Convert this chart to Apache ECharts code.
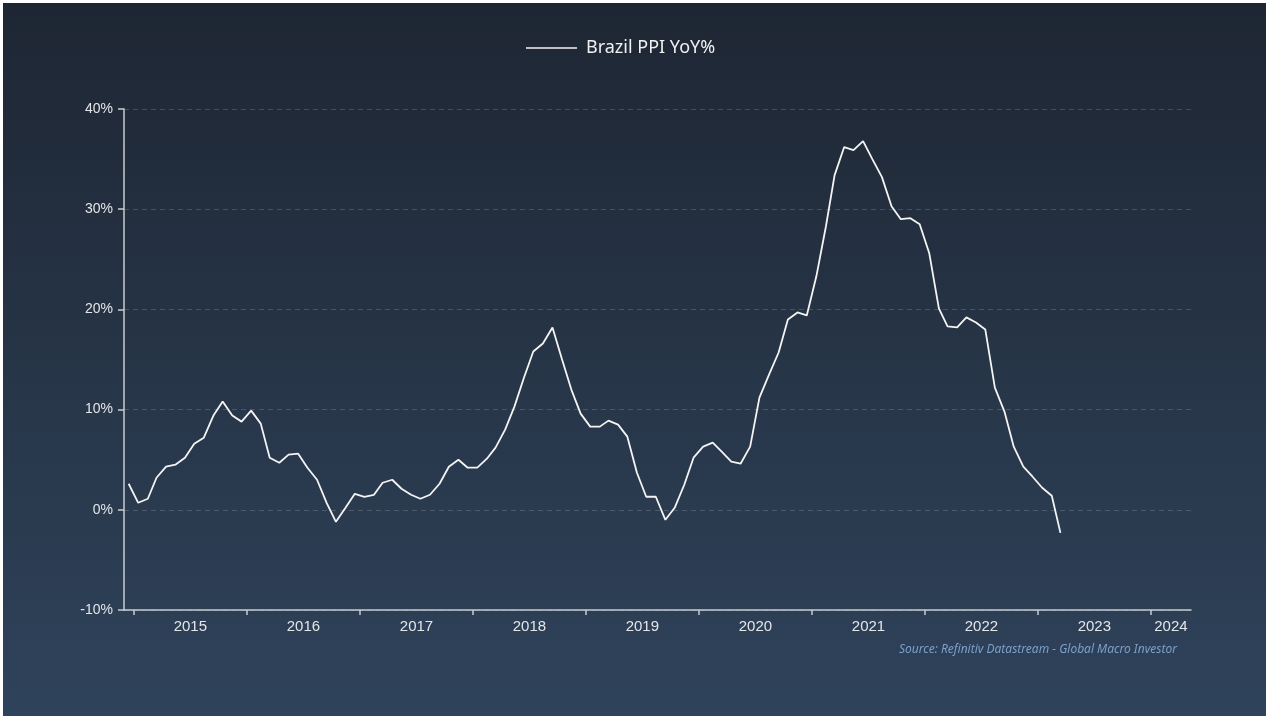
<!DOCTYPE html>
<html>
<head>
<meta charset="utf-8">
<script src="https://cdn.jsdelivr.net/npm/echarts@6/dist/echarts.min.js"></script>
<style>
  html, body { margin: 0; padding: 0; background: #ffffff; }
  #main { position: absolute; left: 3px; top: 3px; width: 1263px; height: 713px; }
</style>
</head>
<body>
<div id="main"></div>
<script>
// monthly series, first value is Dec 2014
const startYear = 2014
const startMonth = 11 // 0-based, December
const ppiYoY = [
  2.6, 0.7, 1.1, 3.2, 4.3, 4.5, 5.2, 6.6, 7.2, 9.4, 10.8, 9.4,
  8.8, 9.9, 8.6, 5.2, 4.7, 5.5, 5.6, 4.2, 3.0, 0.7, -1.2, 0.2,
  1.6, 1.3, 1.5, 2.7, 3.0, 2.1, 1.5, 1.1, 1.5, 2.6, 4.3, 5.0,
  4.2, 4.2, 5.1, 6.2, 8.0, 10.3, 13.2, 15.8, 16.6, 18.2, 15.1, 12.0,
  9.6, 8.3, 8.3, 8.9, 8.5, 7.3, 3.7, 1.3, 1.3, -1.0, 0.2, 2.5,
  5.2, 6.3, 6.7, 5.8, 4.8, 4.6, 6.3, 11.2, 13.5, 15.7, 19.0, 19.7,
  19.4, 23.3, 28.3, 33.4, 36.2, 35.9, 36.8, 35.0, 33.2, 30.3, 29.0, 29.1,
  28.5, 25.6, 20.1, 18.3, 18.2, 19.2, 18.7, 18.0, 12.2, 9.8, 6.3, 4.3,
  3.3, 2.2, 1.4, -2.3
]
const yearTicks = [2015, 2016, 2017, 2018, 2019, 2020, 2021, 2022, 2023, 2024]

const seriesName = 'Brazil PPI YoY%'
const sourceNote = 'Source: Refinitiv Datastream - Global Macro Investor'

// x range of the plot (timestamps)
const xMin = Date.UTC(2014, 10, 30)
const xMax = Date.UTC(2024, 4, 10)

const seriesData = ppiYoY.map((v, i) => [Date.UTC(startYear, startMonth + i, 15), v])
const tickValues = yearTicks.map(y => Date.UTC(y, 0, 1))
// year labels sit in the middle of the visible part of each year
const labelValues = yearTicks.map(y => {
  const a = Math.max(Date.UTC(y, 0, 1), xMin)
  const b = Math.min(Date.UTC(y + 1, 0, 1), xMax)
  return (a + b) / 2
})

const chart = echarts.init(document.getElementById('main'))

const option = {
  backgroundColor: {
    type: 'linear', x: 0, y: 0, x2: 0, y2: 1,
    colorStops: [
      { offset: 0, color: '#1e2633' },
      { offset: 1, color: '#2f435b' }
    ]
  },
  animation: false,
  legend: {
    left: 518,
    top: 31,
    icon: 'rect',
    itemWidth: 51,
    itemHeight: 1.6,
    data: [seriesName],
    textStyle: { color: '#f0f0f0', fontSize: 18, fontFamily: 'Noto Sans', padding: [0, 0, 0, 4] }
  },
  graphic: [{
    type: 'text',
    right: 89,
    top: 641,
    style: {
      text: sourceNote,
      fill: '#7d9fca',
      fontSize: 12,
      fontStyle: 'italic',
      fontFamily: 'Noto Sans'
    }
  }],
  grid: { left: 121, right: 75, top: 106, bottom: 106, containLabel: false },
  xAxis: {
    type: 'value',
    min: xMin,
    max: xMax,
    axisLine: { show: true, onZero: false, lineStyle: { color: '#c9ccd0', width: 1.5 } },
    axisTick: { show: true, length: 5, customValues: tickValues, lineStyle: { color: '#c9ccd0', width: 1.5 } },
    splitLine: { show: false },
    axisLabel: {
      customValues: labelValues,
      color: '#e4e6e8',
      fontSize: 15,
      fontFamily: 'Liberation Sans',
      margin: 9,
      formatter: v => String(new Date(v).getUTCFullYear())
    }
  },
  yAxis: {
    type: 'value',
    min: -10,
    max: 40,
    interval: 10,
    axisLine: { show: true, lineStyle: { color: '#c9ccd0', width: 1.5 } },
    axisTick: { show: true, length: 6, lineStyle: { color: '#c9ccd0', width: 1.5 } },
    splitLine: { show: true, lineStyle: { color: 'rgba(255,255,255,0.16)', type: [5, 4], width: 1 } },
    axisLabel: {
      color: '#e4e6e8',
      fontSize: 14,
      fontFamily: 'Liberation Sans',
      margin: 11,
      formatter: '{value}%'
    }
  },
  series: [{
    name: seriesName,
    type: 'line',
    symbol: 'none',
    lineStyle: { color: '#f4f4f4', width: 1.8 },
    itemStyle: { color: '#f4f4f4' },
    data: seriesData
  }]
}

chart.setOption(option)
</script>
</body>
</html>
